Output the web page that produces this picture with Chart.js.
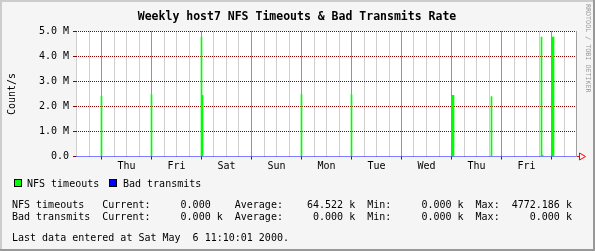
<!DOCTYPE html>
<html>
<head>
<meta charset="utf-8">
<script src="https://cdn.jsdelivr.net/npm/chart.js@4.4.0/dist/chart.umd.min.js"></script>
<style>
html, body { margin: 0; padding: 0; background: #f5f5f5; }
canvas { display: block; }
</style>
</head>
<body>
<canvas id="rrdChart" width="595" height="251"></canvas>
<script>
// time in days from Thu 00:00 (one pixel is about 0.02 day)
const nfsDays = [0, 1, 2, 2.02, 4, 5, 7.02, 7.04, 7.8, 8.8, 8.82, 9.02, 9.04];
const nfsValues = [2410000, 2480000, 4772186, 2450000, 2480000, 2480000, 2450000, 2450000, 2400000, 4772186, 60000, 4772186, 4772186];
const badDays = [-0.51, 9.49];
const badValues = [0, 0];

const dayLabels = ['Thu', 'Fri', 'Sat', 'Sun', 'Mon', 'Tue', 'Wed', 'Thu', 'Fri'];
const yLabels = { 0: '0.0', 1000000: '1.0 M', 2000000: '2.0 M', 3000000: '3.0 M', 4000000: '4.0 M', 5000000: '5.0 M' };

const titleText = 'Weekly host7 NFS Timeouts & Bad Transmits Rate';
const legendItems = [
    { text: 'NFS timeouts', color: '#00ff00', box: 14, label: 27 },
    { text: 'Bad transmits', color: '#0000ff', box: 109, label: 123 }
];
const statLines = [
    'NFS timeouts   Current:     0.000    Average:    64.522 k  Min:     0.000 k  Max:  4772.186 k',
    'Bad transmits  Current:     0.000 k  Average:     0.000 k  Min:     0.000 k  Max:     0.000 k'
];
const lastLine = 'Last data entered at Sat May  6 11:10:01 2000.';
const sideText = 'RRDTOOL / TOBI OETIKER';

const MONO = 'DejaVu Sans Mono';
const MAJOR = '#8b0000';
const MINOR = '#a0a0a0';
const NONE = 'rgba(0,0,0,0)';

Chart.defaults.font.family = MONO;
Chart.defaults.font.size = 10;
Chart.defaults.color = '#000';

// quarter-day grid from Wed 12:00
const xTickValues = [];
for (let k = -2; k <= 37; k++) xTickValues.push(k / 4);

const rrdFrame = {
    id: 'rrdFrame',
    beforeDraw(chart) {
        const { ctx, chartArea: a, width, height } = chart;
        ctx.save();
        ctx.fillStyle = '#f5f5f5';
        ctx.fillRect(0, 0, width, height);
        ctx.fillStyle = '#ffffff';
        ctx.fillRect(a.left, Math.floor(a.top), a.right - a.left, Math.ceil(a.bottom) - Math.floor(a.top));
        ctx.fillStyle = '#cccccc';
        ctx.fillRect(0, 0, width, 2);
        ctx.fillRect(0, 0, 2, height);
        ctx.fillStyle = '#999999';
        ctx.fillRect(0, height - 2, width, 2);
        ctx.fillRect(width - 2, 0, 2, height);
        ctx.restore();
    },
    afterDraw(chart) {
        const { ctx, chartArea: a } = chart;
        ctx.save();
        // right frame line + arrow
        ctx.fillStyle = '#a0a0a0';
        ctx.fillRect(a.right, Math.floor(a.top), 1, Math.ceil(a.bottom) - Math.floor(a.top));
        ctx.fillStyle = '#ff0000';
        ctx.fillRect(a.right + 1, Math.floor(a.bottom), 3, 1);
        ctx.strokeStyle = '#ff0000';
        ctx.lineWidth = 1;
        ctx.beginPath();
        ctx.moveTo(a.right + 3.5, a.bottom - 3.5);
        ctx.lineTo(a.right + 3.5, a.bottom + 3.5);
        ctx.lineTo(a.right + 9.5, a.bottom);
        ctx.closePath();
        ctx.stroke();

        // title
        ctx.fillStyle = '#000';
        ctx.textBaseline = 'alphabetic';
        ctx.textAlign = 'center';
        ctx.font = 'bold 11.5px ' + MONO;
        ctx.fillText(titleText, 297, 20);

        // legend
        ctx.textAlign = 'left';
        ctx.font = '10px ' + MONO;
        legendItems.forEach(item => {
            ctx.fillStyle = item.color;
            ctx.fillRect(item.box, 179, 8, 8);
            ctx.strokeStyle = '#000';
            ctx.strokeRect(item.box + 0.5, 179.5, 7, 7);
            ctx.fillStyle = '#000';
            ctx.fillText(item.text, item.label, 187);
        });
        ctx.fillText(statLines[0], 12, 208);
        ctx.fillText(statLines[1], 12, 220);
        ctx.fillText(lastLine, 12, 241);

        // side text
        ctx.fillStyle = '#999999';
        ctx.font = '6.7px ' + MONO;
        ctx.translate(586, 4);
        ctx.rotate(Math.PI / 2);
        ctx.fillText(sideText, 0, 0);
        ctx.restore();
    }
};

new Chart(document.getElementById('rrdChart'), {
    type: 'bar',
    data: {
        datasets: [
            {
                type: 'bar',
                label: 'NFS timeouts',
                data: nfsDays.map((d, i) => ({ x: d, y: nfsValues[i] })),
                backgroundColor: '#00ff00',
                borderWidth: 0,
                barThickness: 1,
                order: 2
            },
            {
                type: 'line',
                label: 'Bad transmits',
                data: badDays.map((d, i) => ({ x: d, y: badValues[i] })),
                borderColor: '#0000ff',
                borderWidth: 1,
                pointRadius: 0,
                order: 1
            }
        ]
    },
    options: {
        responsive: false,
        animation: false,
        devicePixelRatio: 1,
        layout: { padding: { left: 0, top: 31.5, right: 19, bottom: 0 } },
        plugins: {
            legend: { display: false },
            tooltip: { enabled: false }
        },
        scales: {
            x: {
                type: 'linear',
                min: -0.51,
                max: 9.49,
                offset: false,
                z: 1,
                grid: {
                    offset: false,
                    lineWidth: 1,
                    tickLength: 3,
                    color: ctx => Number.isInteger(ctx.tick.value) ? MAJOR : MINOR,
                    tickColor: ctx => Number.isInteger(ctx.tick.value) ? MAJOR : NONE
                },
                border: { display: false, dash: [1, 1] },
                ticks: {
                    autoSkip: false,
                    maxRotation: 0,
                    padding: 1,
                    color: '#000',
                    callback: v => {
                        const k = v - 0.5;
                        return Number.isInteger(k) && dayLabels[k] ? dayLabels[k] : '';
                    }
                },
                afterBuildTicks: ax => { ax.ticks = xTickValues.map(v => ({ value: v })); },
                afterFit: ax => { ax.height = 94.5; }
            },
            y: {
                min: 0,
                max: 5000000,
                z: 1,
                grid: {
                    lineWidth: 1,
                    tickLength: 3,
                    color: ctx => ctx.tick.value === 0 ? NONE : (ctx.tick.value % 1000000 === 0 ? MAJOR : MINOR),
                    tickColor: ctx => ctx.tick.value % 1000000 === 0 ? MAJOR : NONE
                },
                border: { display: false, dash: [1, 1] },
                ticks: {
                    stepSize: 500000,
                    padding: 4,
                    color: '#000',
                    callback: v => yLabels[v] || ''
                },
                title: {
                    display: true,
                    text: 'Count/s',
                    color: '#000',
                    font: { size: 10 },
                    padding: { top: 6, bottom: 0 }
                },
                afterFit: ax => { ax.width = 76; }
            }
        }
    },
    plugins: [rrdFrame]
});
</script>
</body>
</html>
